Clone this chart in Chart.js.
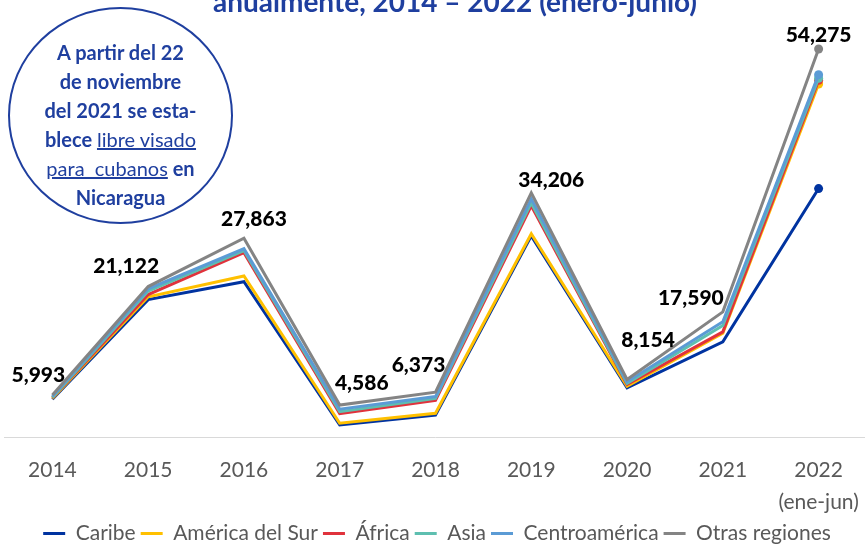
<!DOCTYPE html>
<html lang="es">

<head>
    <meta charset="UTF-8" />
    <title>Llegadas por región</title>
    <script src="https://cdn.jsdelivr.net/npm/chart.js"></script>
    <style>
        body { margin: 0; background: #fff; font-family: Lato, sans-serif; }
        #wrap { position: relative; width: 865px; height: 546px; overflow: hidden; }
        #titulo {
            position: absolute; left: 0; width: 910px; top: -16px; text-align: center;
            color: #1f3f9f; font-weight: 700; font-size: 28px; white-space: nowrap;
        }
        #nota {
            position: absolute; left: 8px; top: 7px; width: 225px; height: 217px;
            border: 2px solid #1f3f9f; border-radius: 50%; box-sizing: border-box;
            color: #1f3f9f; font-weight: 700; font-size: 20px; line-height: 29px;
            text-align: center; padding-top: 29px; background: #fff;
        }
        #nota u { font-weight: 400; }
    </style>
</head>

<body>
    <div id="wrap">
        <canvas id="grafica" width="871" height="546"></canvas>
        <div id="titulo">anualmente, 2014 – 2022 (enero-junio)</div>
        <div id="nota">
            A partir del 22<br>
            de noviembre<br>
            del 2021 se esta-<br>
            blece <u>libre visado </u><br>
            <u>para&nbsp; cubanos</u> en<br>
            Nicaragua
        </div>
    </div>

    <script>
        // Datos por región (personas)
        const anios = ["2014", "2015", "2016", "2017", "2018", "2019", "2020", "2021", ["2022", "(ene-jun)"]];
        const caribe = [5400, 19300, 21800, 1800, 3200, 28200, 7000, 13400, 34800];
        const americaSur = [100, 400, 800, 250, 230, 300, 200, 1200, 14600];
        const africa = [100, 300, 3260, 1350, 1820, 3890, 250, 200, 500];
        const asia = [50, 500, 280, 250, 250, 400, 150, 900, 300];
        const centroamerica = [150, 300, 260, 350, 270, 580, 250, 500, 500];
        const otras = [193, 322, 1463, 586, 603, 836, 304, 1390, 3575];

        const series = [
            { label: "Caribe", data: caribe, color: "#0033a0" },
            { label: "América del Sur", data: americaSur, color: "#ffc000" },
            { label: "África", data: africa, color: "#e0323c" },
            { label: "Asia", data: asia, color: "#5ebfb0" },
            { label: "Centroamérica", data: centroamerica, color: "#5b9bd5" },
            { label: "Otras regiones", data: otras, color: "#848484" }
        ];

        // desplazamiento de las etiquetas del total respecto al punto
        const desplX = [-14, -22, 10, 22, -17, 20, 21, -32, 0];
        const desplY = [-20, -20, -19, -22, -27, -13, -39, -14, -14];

        // acumulado (las líneas van apiladas)
        let acumulado = anios.map(() => 0);
        const datasets = series.map((s, i) => {
            acumulado = acumulado.map((v, j) => v + s.data[j]);
            return {
                label: s.label,
                data: acumulado.slice(),
                borderColor: s.color,
                backgroundColor: s.color,
                borderWidth: 3,
                fill: false,
                tension: 0,
                pointRadius: anios.map((a, j) => j === anios.length - 1 ? 4.5 : 0),
                pointBackgroundColor: s.color,
                pointBorderWidth: 0,
                order: series.length - i
            };
        });
        const totales = acumulado;

        const etiquetasTotal = {
            id: "etiquetasTotal",
            afterDatasetsDraw(chart) {
                const meta = chart.getDatasetMeta(series.length - 1);
                const ctx = chart.ctx;
                ctx.save();
                ctx.font = "900 21px Lato";
                ctx.fillStyle = "#000";
                ctx.textAlign = "center";
                ctx.textBaseline = "middle";
                meta.data.forEach((p, i) => {
                    ctx.fillText(totales[i].toLocaleString("en-US"), p.x + desplX[i], p.y + desplY[i]);
                });
                ctx.restore();
            }
        };

        new Chart(document.getElementById("grafica"), {
            type: "line",
            data: { labels: anios, datasets },
            options: {
                responsive: false,
                animation: false,
                layout: { padding: { left: 3, right: 0, top: 8, bottom: -8 } },
                plugins: {
                    tooltip: { enabled: false },
                    legend: {
                        position: "bottom",
                        labels: {
                            boxWidth: 22,
                            boxHeight: 3,
                            padding: 5,
                            color: "#595959",
                            font: { family: "Lato", size: 21 },
                            generateLabels(chart) {
                                const items = Chart.defaults.plugins.legend.labels.generateLabels(chart);
                                items.forEach(it => { it.lineWidth = 0; });
                                return items.sort((a, b) => a.datasetIndex - b.datasetIndex);
                            }
                        }
                    }
                },
                scales: {
                    x: {
                        offset: true,
                        grid: { display: false },
                        border: { display: true, color: "#d9d9d9", width: 1 },
                        ticks: {
                            color: "#595959",
                            padding: 8,
                            maxRotation: 0,
                            font: { family: "Lato", size: 21, lineHeight: 1.55 }
                        },
                        afterFit(scale) { scale.height -= 9; }
                    },
                    y: {
                        display: false,
                        min: 0,
                        max: 60000
                    }
                }
            },
            plugins: [etiquetasTotal]
        });
    </script>
</body>

</html>
